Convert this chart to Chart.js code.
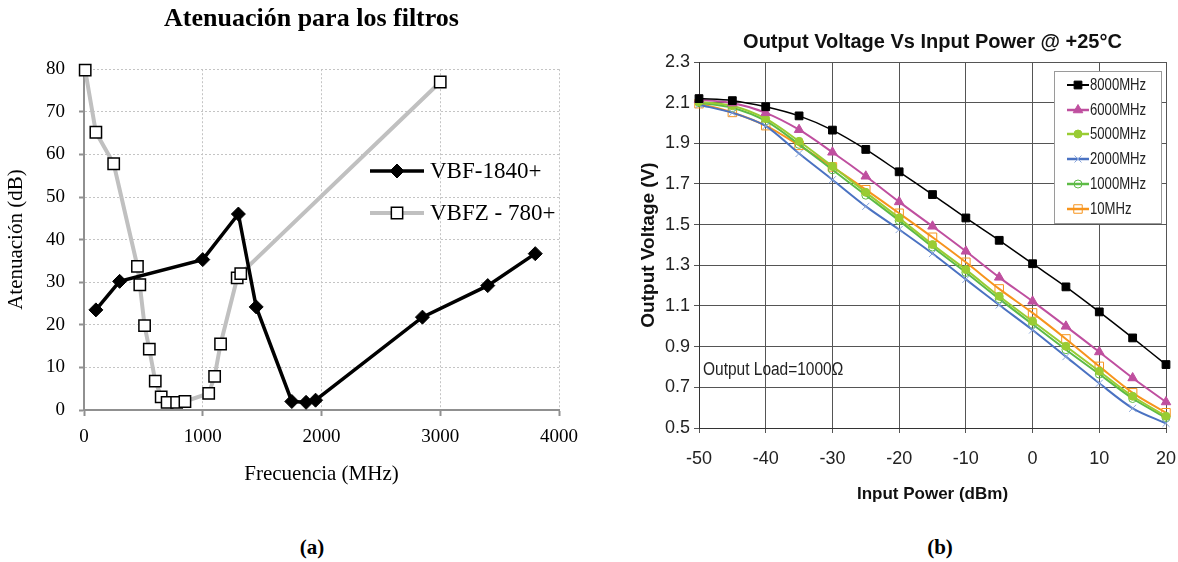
<!DOCTYPE html>
<html>
<head>
<meta charset="utf-8">
<script src="https://cdn.jsdelivr.net/npm/chart.js@4.4.1/dist/chart.umd.min.js"></script>
<style>
body { margin:0; background:#fff; width:1178px; height:562px; overflow:hidden; position:relative; }
#boxA { position:absolute; left:0; top:0; width:624px; height:520px; }
#boxB { position:absolute; left:600px; top:0; width:578px; height:520px; }
.cap { position:absolute; top:535px; width:60px; text-align:center; font:bold 21px 'Liberation Serif', serif; }
</style>
</head>
<body>
<div id="boxA"><canvas id="chartA"></canvas></div>
<div id="boxB"><canvas id="chartB"></canvas></div>
<div class="cap" style="left:282px">(a)</div>
<div class="cap" style="left:910px">(b)</div>
<script>
// (a) attenuation of the two filters
var vbfFreq = [100, 300, 1000, 1300, 1450, 1750, 1870, 1950, 2850, 3400, 3800];
var vbfAtt = [23.5, 30.2, 35.3, 46, 24.2, 2.0, 1.8, 2.3, 21.8, 29.2, 36.7];
var vbfzFreq = [10, 100, 250, 450, 470, 510, 550, 600, 650, 700, 780, 850, 1050, 1100, 1150, 1290, 1320, 3000];
var vbfzAtt = [79.8, 65.2, 57.8, 33.7, 29.4, 19.8, 14.3, 6.8, 3.1, 1.8, 1.8, 2.0, 3.9, 7.9, 15.5, 31.0, 32.0, 77.0];
var filterNames = ['VBF-1840+', 'VBFZ - 780+'];

// (b) output voltage vs input power
var inputPower = [-50, -45, -40, -35, -30, -25, -20, -15, -10, -5, 0, 5, 10, 15, 20];
var v8000 = [2.12, 2.11, 2.08, 2.035, 1.965, 1.87, 1.76, 1.648, 1.533, 1.423, 1.308, 1.194, 1.071, 0.943, 0.812];
var v6000 = [2.115, 2.098, 2.05, 1.967, 1.856, 1.738, 1.612, 1.492, 1.369, 1.241, 1.123, 1.0, 0.874, 0.746, 0.628];
var v5000 = [2.105, 2.085, 2.021, 1.91, 1.787, 1.659, 1.533, 1.402, 1.279, 1.148, 1.025, 0.902, 0.779, 0.656, 0.558];
var v2000 = [2.09, 2.05, 1.985, 1.85, 1.721, 1.59, 1.476, 1.358, 1.231, 1.105, 0.982, 0.851, 0.72, 0.597, 0.523];
var v1000 = [2.1, 2.075, 2.01, 1.895, 1.77, 1.645, 1.52, 1.39, 1.265, 1.135, 1.01, 0.885, 0.765, 0.645, 0.55];
var v10 = [2.095, 2.052, 1.987, 1.89, 1.784, 1.672, 1.556, 1.438, 1.315, 1.184, 1.066, 0.938, 0.803, 0.673, 0.575];
var bandNames = ['8000MHz', '6000MHz', '5000MHz', '2000MHz', '1000MHz', '10MHz'];

var serif = "'Liberation Serif', 'Times New Roman', serif";
var sans = "'Liberation Sans Narrow', 'Arial Narrow', 'Liberation Sans', Arial, sans-serif";

function pts(xs, ys){
    var out = [];
    for(var i = 0; i < xs.length; i++){
        out.push({x: xs[i], y: ys[i]});
    }
    return out;
}

function marker(ctx, style, x, y, r, fill, stroke, lw){
    ctx.save();
    ctx.beginPath();
    if(style == 'rectRot'){
        ctx.moveTo(x, y - r); ctx.lineTo(x + r, y); ctx.lineTo(x, y + r); ctx.lineTo(x - r, y); ctx.closePath();
    } else if(style == 'rect'){
        var s = r * Math.SQRT1_2;
        ctx.rect(x - s, y - s, 2 * s, 2 * s);
    } else if(style == 'triangle'){
        ctx.moveTo(x, y - r); ctx.lineTo(x + r * 0.87, y + r * 0.5); ctx.lineTo(x - r * 0.87, y + r * 0.5); ctx.closePath();
    } else if(style == 'circle'){
        ctx.arc(x, y, r, 0, Math.PI * 2);
    } else if(style == 'crossRot'){
        var c = r * 0.7;
        ctx.moveTo(x - c, y - c); ctx.lineTo(x + c, y + c);
        ctx.moveTo(x + c, y - c); ctx.lineTo(x - c, y + c);
    }
    if(fill && style != 'crossRot'){ ctx.fillStyle = fill; ctx.fill(); }
    ctx.lineWidth = lw; ctx.strokeStyle = stroke; ctx.stroke();
    ctx.restore();
}

// narrow text: the reference uses a condensed face
function narrowText(ctx, txt, x, y, size, squeeze){
    ctx.save();
    ctx.font = size + 'px ' + sans;
    ctx.fillStyle = '#222';
    ctx.textBaseline = 'middle';
    ctx.translate(x, y);
    ctx.scale(squeeze, 1);
    ctx.fillText(txt, 0, 0);
    ctx.restore();
}

var legendA = {
    id: 'legendA',
    afterDraw: function(chart){
        var ctx = chart.ctx;
        var rows = [171, 213];
        chart.data.datasets.forEach(function(ds, i){
            var y = rows[i];
            ctx.save();
            ctx.strokeStyle = ds.borderColor;
            ctx.lineWidth = ds.borderWidth;
            ctx.beginPath(); ctx.moveTo(370, y); ctx.lineTo(424, y); ctx.stroke();
            ctx.restore();
            marker(ctx, ds.pointStyle, 397, y, ds.pointRadius, ds.pointBackgroundColor, ds.pointBorderColor, ds.pointBorderWidth);
            ctx.fillStyle = '#000';
            ctx.font = '23px ' + serif;
            ctx.textBaseline = 'middle';
            ctx.fillText(ds.label, 430, y + 1);
        });
    }
};

var legendB = {
    id: 'legendB',
    afterDraw: function(chart){
        var ctx = chart.ctx;
        ctx.save();
        ctx.fillStyle = '#fff';
        ctx.fillRect(454, 71, 107, 152);
        ctx.strokeStyle = '#9a9a9a';
        ctx.lineWidth = 1;
        ctx.strokeRect(454.5, 71.5, 107, 152);
        ctx.restore();
        var rows = [85, 110, 134, 159, 184, 209];
        chart.data.datasets.forEach(function(ds, i){
            var y = rows[i];
            ctx.save();
            ctx.strokeStyle = ds.borderColor;
            ctx.lineWidth = ds.borderWidth + 0.5;
            ctx.beginPath(); ctx.moveTo(467, y); ctx.lineTo(489, y); ctx.stroke();
            ctx.restore();
            marker(ctx, ds.pointStyle, 478, y, ds.pointRadius, ds.pointBackgroundColor, ds.pointBorderColor, ds.pointBorderWidth);
            narrowText(ctx, ds.label, 490, y + 1, 16, 0.82);
        });
        narrowText(ctx, 'Output Load=1000\u03A9', 103, 370, 18, 0.86);
    }
};

Chart.defaults.animation = false;

var chartA = new Chart(document.getElementById('chartA'), {
    type: 'line',
    data: {
        datasets: [{
            label: filterNames[0],
            data: pts(vbfFreq, vbfAtt),
            borderColor: '#000',
            borderWidth: 3.5,
            pointStyle: 'rectRot',
            pointRadius: 7,
            pointBackgroundColor: '#000',
            pointBorderColor: '#000',
            pointBorderWidth: 1,
            tension: 0,
            clip: false
        }, {
            label: filterNames[1],
            data: pts(vbfzFreq, vbfzAtt),
            borderColor: '#c0c0c0',
            borderWidth: 4,
            pointStyle: 'rect',
            pointRadius: 8,
            pointBackgroundColor: '#fff',
            pointBorderColor: '#000',
            pointBorderWidth: 1.5,
            tension: 0,
            clip: false
        }]
    },
    options: {
        responsive: true,
        maintainAspectRatio: false,
        layout: { padding: { left: 4, right: 5, top: 0, bottom: 0 } },
        plugins: {
            legend: { display: false },
            tooltip: { enabled: false },
            title: {
                display: true,
                text: 'Atenuación para los filtros',
                color: '#000',
                font: { family: serif, size: 26, weight: 'bold' },
                padding: { top: 4, bottom: 34 }
            }
        },
        scales: {
            x: {
                type: 'linear',
                min: 0, max: 4000,
                ticks: { stepSize: 1000, color: '#000', font: { family: serif, size: 19 }, padding: 10,
                    callback: function(v){ return String(v); } },
                grid: { color: '#c4c4c4', tickColor: '#909090', tickLength: 6, tickWidth: 2 },
                border: { color: '#909090', width: 2, dash: [2, 2] },
                title: { display: true, text: 'Frecuencia (MHz)', color: '#000', font: { family: serif, size: 21 }, padding: { bottom: 33 } },
                afterFit: function(scale){ scale.height = 110; }
            },
            y: {
                min: 0, max: 80,
                ticks: { stepSize: 10, color: '#000', font: { family: serif, size: 19 }, padding: 14 },
                grid: { color: '#c4c4c4', tickColor: '#909090', tickLength: 5, tickWidth: 2 },
                border: { color: '#909090', width: 2, dash: [2, 2] },
                title: { display: true, text: 'Atenuación (dB)', color: '#000', font: { family: serif, size: 21 }, padding: { top: 0 } },
                afterFit: function(scale){ scale.width = 80; }
            },
            // empty right-hand box so the title centres where the original does
            yPad: {
                position: 'right',
                grid: { display: false },
                ticks: { display: false },
                border: { display: false },
                afterFit: function(scale){ scale.width = 60; }
            }
        }
    },
    plugins: [legendA]
});

var colorsB = ['#000000', '#bf4f9f', '#99cc33', '#4a72c2', '#5dbb46', '#f7941d'];
var pointFillB = ['#000000', '#bf4f9f', '#99cc33', '#8aa6dc', 'rgba(255,255,255,0)', 'rgba(255,255,255,0)'];
var pointEdgeB = ['#000000', '#bf4f9f', '#99cc33', '#8aa6dc', '#5dbb46', '#f7941d'];
var stylesB = ['rect', 'triangle', 'circle', 'crossRot', 'circle', 'rect'];
var radiiB = [5.5, 5.5, 4, 5, 4, 6];
var widthsB = [1.5, 2, 2, 2, 2, 2];
var seriesB = [v8000, v6000, v5000, v2000, v1000, v10];

var dsB = [];
for(var k = 0; k < seriesB.length; k++){
    dsB.push({
        label: bandNames[k],
        data: pts(inputPower, seriesB[k]),
        borderColor: colorsB[k],
        borderWidth: widthsB[k],
        pointStyle: stylesB[k],
        pointRadius: radiiB[k],
        pointBackgroundColor: pointFillB[k],
        pointBorderColor: pointEdgeB[k],
        pointBorderWidth: 1,
        tension: 0.3,
        clip: false
    });
}

var chartB = new Chart(document.getElementById('chartB'), {
    type: 'line',
    data: { datasets: dsB },
    options: {
        responsive: true,
        maintainAspectRatio: false,
        layout: { padding: { left: 30, right: 12, top: 0, bottom: 0 } },
        plugins: {
            legend: { display: false },
            tooltip: { enabled: false },
            title: {
                display: true,
                fullSize: false,
                text: 'Output Voltage Vs Input Power @ +25\u00B0C',
                color: '#111',
                font: { family: sans, size: 20, weight: 'bold' },
                padding: { top: 30, bottom: 8 }
            }
        },
        scales: {
            x: {
                type: 'linear',
                min: -50, max: 20,
                ticks: { stepSize: 10, color: '#222', font: { family: sans, size: 18 }, padding: 15 },
                grid: { color: '#555', tickColor: '#555', tickLength: 5 },
                border: { color: '#333', width: 1 },
                title: { display: true, text: 'Input Power (dBm)', color: '#111', font: { family: sans, size: 17, weight: 'bold' }, padding: { bottom: 15 } },
                afterFit: function(scale){
                    scale.height = 92;
                    scale.paddingLeft = 0;
                    scale.paddingRight = 0;
                }
            },
            y: {
                min: 0.5, max: 2.3,
                ticks: { stepSize: 0.2, color: '#222', font: { family: sans, size: 18 }, padding: 4,
                    callback: function(v){ return v.toFixed(1); } },
                grid: { color: '#555', tickColor: '#555', tickLength: 5 },
                border: { color: '#333', width: 1 },
                title: { display: true, text: 'Output Voltage (V)', color: '#111', font: { family: sans, size: 19, weight: 'bold' }, padding: { top: 7.6 } },
                afterFit: function(scale){ scale.width = 69; }
            }
        }
    },
    plugins: [legendB]
});
</script>
</body>
</html>
